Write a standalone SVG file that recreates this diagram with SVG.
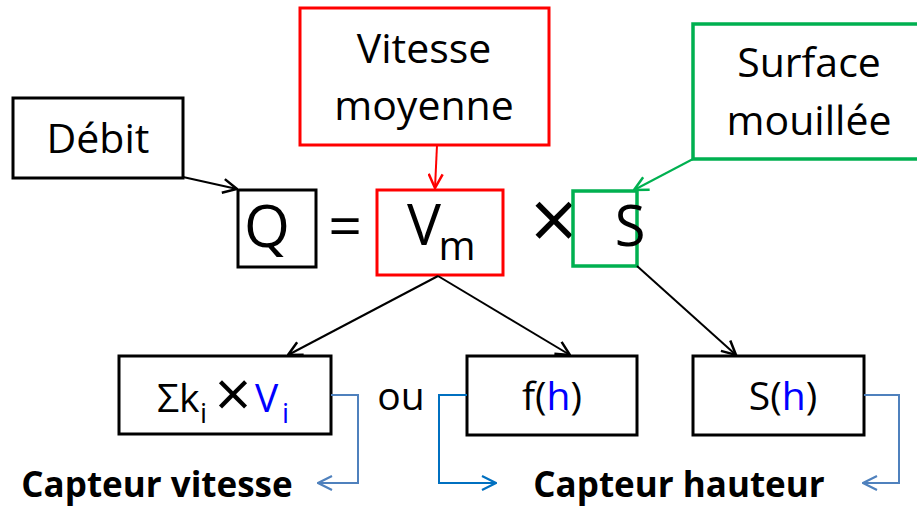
<svg xmlns="http://www.w3.org/2000/svg" width="917" height="506" viewBox="0 0 917 506">
  <style>
    text { font-family: "Open Sans", "Noto Sans", sans-serif; fill: #000; }
    .box { fill: #fff; stroke: #000; stroke-width: 3; }
    .red { fill: #fff; stroke: #ff0000; stroke-width: 3; }
    .green { fill: #fff; stroke: #00b050; stroke-width: 3.5; }
    .lbl { font-size: 41px; text-anchor: middle; }
    .cell { font-size: 39px; }
    .sub { font-size: 28px; }
    .blue { fill: #0000ff; }
    .cap { font-size: 35px; font-weight: bold; text-anchor: middle; }
    .conn { fill: none; stroke-width: 2; }
  </style>
  <defs>
    <marker id="ah-black" viewBox="0 0 16 16" refX="15" refY="8" markerWidth="16" markerHeight="16" markerUnits="userSpaceOnUse" orient="auto">
      <path d="M1,1 L15,8 L1,15" fill="none" stroke="#000" stroke-width="2.5"/>
    </marker>
    <marker id="ah-red" viewBox="0 0 16 16" refX="15" refY="8" markerWidth="16" markerHeight="16" markerUnits="userSpaceOnUse" orient="auto">
      <path d="M1,1 L15,8 L1,15" fill="none" stroke="#ff0000" stroke-width="2.5"/>
    </marker>
    <marker id="ah-green" viewBox="0 0 16 16" refX="15" refY="8" markerWidth="16" markerHeight="16" markerUnits="userSpaceOnUse" orient="auto">
      <path d="M1,1 L15,8 L1,15" fill="none" stroke="#00b050" stroke-width="2.5"/>
    </marker>
    <marker id="ah-steel" viewBox="0 0 16 16" refX="15" refY="8" markerWidth="16" markerHeight="16" markerUnits="userSpaceOnUse" orient="auto">
      <path d="M1,1 L15,8 L1,15" fill="none" stroke="#4f81bd" stroke-width="2.2"/>
    </marker>
    <marker id="ah-blue" viewBox="0 0 16 16" refX="15" refY="8" markerWidth="16" markerHeight="16" markerUnits="userSpaceOnUse" orient="auto">
      <path d="M1,1 L15,8 L1,15" fill="none" stroke="#0070c0" stroke-width="2.2"/>
    </marker>
  </defs>

  <rect width="917" height="506" fill="#fff"/>

  <!-- top label boxes -->
  <g id="debit">
    <rect class="box" x="13" y="98" width="170" height="80"/>
    <text class="lbl" x="98" y="153">Débit</text>
  </g>
  <g id="vitesse-moyenne">
    <rect class="red" x="300" y="8" width="249" height="137"/>
    <text class="lbl" x="424" y="63">Vitesse</text>
    <text class="lbl" x="424" y="120">moyenne</text>
  </g>
  <g id="surface-mouillee">
    <rect class="green" x="693" y="24" width="232" height="135"/>
    <text class="lbl" x="809" y="77">Surface</text>
    <text class="lbl" x="809" y="135">mouillée</text>
  </g>

  <!-- equation Q = Vm × S -->
  <g id="q">
    <rect class="box" x="238" y="190" width="78" height="77"/>
    <text x="267" y="247" font-size="59" text-anchor="middle">Q</text>
  </g>
  <text x="345" y="247" font-size="59" text-anchor="middle">=</text>
  <g id="vm">
    <rect class="red" x="377" y="190" width="126" height="85"/>
    <text x="424" y="245" font-size="57" text-anchor="middle">V</text>
    <text x="457" y="260" font-size="40" text-anchor="middle">m</text>
  </g>
  <text x="554" y="250" font-size="84" text-anchor="middle">×</text>
  <g id="s">
    <rect class="green" x="573" y="191" width="64" height="75"/>
    <text x="630" y="246" font-size="56" text-anchor="middle">S</text>
  </g>

  <!-- lower boxes -->
  <g id="somme">
    <rect class="box" x="119" y="356" width="212" height="78"/>
    <text class="cell" x="157" y="412">Σk</text>
    <text class="sub" x="200" y="423">i</text>
    <text x="233" y="417" font-size="64" text-anchor="middle">×</text>
    <text class="cell blue" x="255" y="412">V</text>
    <text class="sub blue" x="282" y="423">i</text>
  </g>
  <text class="cell" x="401" y="410" text-anchor="middle">ou</text>
  <g id="fh">
    <rect class="box" x="467" y="356" width="170" height="79"/>
    <text class="cell" x="552" y="410" text-anchor="middle">f(<tspan class="blue">h</tspan>)</text>
  </g>
  <g id="sh">
    <rect class="box" x="693" y="356" width="171" height="79"/>
    <text class="cell" x="783" y="410" text-anchor="middle">S(<tspan class="blue">h</tspan>)</text>
  </g>

  <text class="cap" x="157" y="497">Capteur vitesse</text>
  <text class="cap" x="679" y="497">Capteur hauteur</text>

  <!-- connectors -->
  <g id="connectors">
    <path class="conn" stroke="#000" d="M183,177 L237,189" marker-end="url(#ah-black)"/>
    <path class="conn" stroke="#ff0000" d="M437,145 L435,188" marker-end="url(#ah-red)"/>
    <path class="conn" stroke="#00b050" stroke-width="2.5" d="M693,159 L634,190" marker-end="url(#ah-green)"/>
    <path class="conn" stroke="#000" d="M438,276 L288,355" marker-end="url(#ah-black)"/>
    <path class="conn" stroke="#000" d="M438,276 L570,355" marker-end="url(#ah-black)"/>
    <path class="conn" stroke="#000" d="M637,266 L736,355" marker-end="url(#ah-black)"/>
    <path class="conn" stroke="#4f81bd" d="M331,395 H358 V483 H318" marker-end="url(#ah-steel)"/>
    <path class="conn" stroke="#0070c0" d="M467,395 H439 V483 H496" marker-end="url(#ah-blue)"/>
    <path class="conn" stroke="#4f81bd" d="M864,395 H899 V483 H863" marker-end="url(#ah-steel)"/>
  </g>
</svg>
